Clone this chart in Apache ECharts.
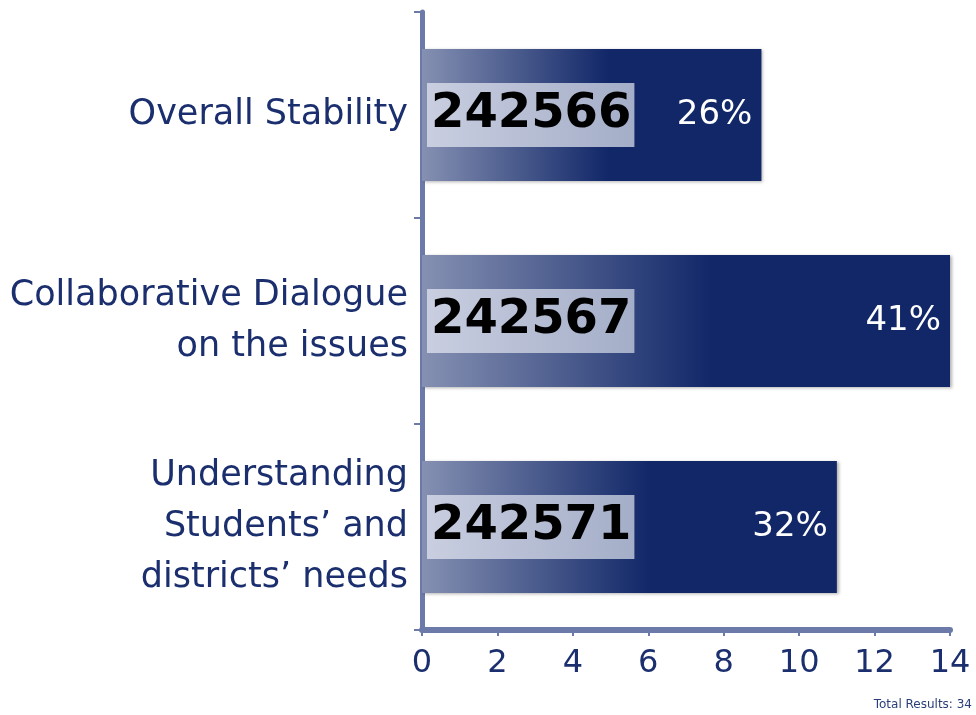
<!DOCTYPE html>
<html>
<head>
<meta charset="utf-8">
<script src="https://cdn.jsdelivr.net/npm/echarts@6/dist/echarts.min.js"></script>
<style>
  html, body { margin: 0; padding: 0; background: #fff; }
  #chart { width: 976px; height: 715px; }
</style>
</head>
<body>
<div id="chart"></div>
<script>
const categories = ['Overall Stability', 'Collaborative Dialogue\non the issues', 'Understanding\nStudents\u2019 and\ndistricts\u2019 needs'];
const counts = [9, 14, 11];
const ids = ['242566', '242567', '242571'];
const percents = ['26%', '41%', '32%'];
const xTicks = [0, 2, 4, 6, 8, 10, 12, 14];

const navy = '#1b2f6e';
const axisBlue = '#6b7aa8';

const chart = echarts.init(document.getElementById('chart'));
const option = {
    animation: false,
    grid: { left: 422, right: 26, top: 12, bottom: 85 },
    graphic: [{
        type: 'text',
        right: 4,
        bottom: 4,
        style: { text: 'Total Results: 34', fill: '#2a3f78', font: '12px "DejaVu Sans"' }
    }],
    xAxis: {
        type: 'value',
        min: xTicks[0],
        max: xTicks[xTicks.length - 1],
        interval: 2,
        splitLine: { show: false },
        axisLine: { show: true, lineStyle: { color: axisBlue, width: 6 } },
        axisTick: { show: true, length: 6, lineStyle: { color: axisBlue, width: 2 } },
        axisLabel: { color: navy, fontSize: 32, fontFamily: 'DejaVu Sans', margin: 18 }
    },
    yAxis: {
        type: 'category',
        inverse: true,
        data: categories,
        axisLine: { show: true, lineStyle: { color: axisBlue, width: 5 } },
        axisTick: { show: true, length: 8, lineStyle: { color: axisBlue, width: 2 } },
        axisLabel: {
            color: navy, fontSize: 35, fontFamily: 'DejaVu Sans',
            lineHeight: 51, margin: 14, align: 'right',
            padding: [7, 0, 0, 0]
        }
    },
    series: [
        {
            type: 'bar',
            data: counts,
            barWidth: 132,
            itemStyle: {
                color: new echarts.graphic.LinearGradient(0, 0, 1, 0, [
                    { offset: 0, color: '#8590b2' },
                    { offset: 0.55, color: '#112768' },
                    { offset: 1, color: '#112768' }
                ]),
                shadowColor: 'rgba(0,0,0,0.3)',
                shadowBlur: 3,
                shadowOffsetX: 2,
                shadowOffsetY: 1
            },
            label: {
                show: true,
                position: 'insideLeft',
                distance: 5,
                formatter: p => ids[p.dataIndex],
                color: '#000',
                fontSize: 48,
                fontWeight: 'bold',
                fontFamily: 'DejaVu Sans',
                lineHeight: 56,
                padding: [4, 3, 4, 4],
                backgroundColor: new echarts.graphic.LinearGradient(0, 0, 1, 0, [
                    { offset: 0, color: '#c9cee0' },
                    { offset: 1, color: '#a4aec8' }
                ])
            }
        },
        {
            type: 'bar',
            data: counts,
            barWidth: 132,
            barGap: '-100%',
            itemStyle: { color: 'transparent' },
            label: {
                show: true,
                position: 'insideRight',
                distance: 9,
                formatter: p => percents[p.dataIndex],
                color: '#fff',
                fontSize: 34,
                fontFamily: 'DejaVu Sans'
            }
        }
    ]
};
chart.setOption(option);
</script>
</body>
</html>
